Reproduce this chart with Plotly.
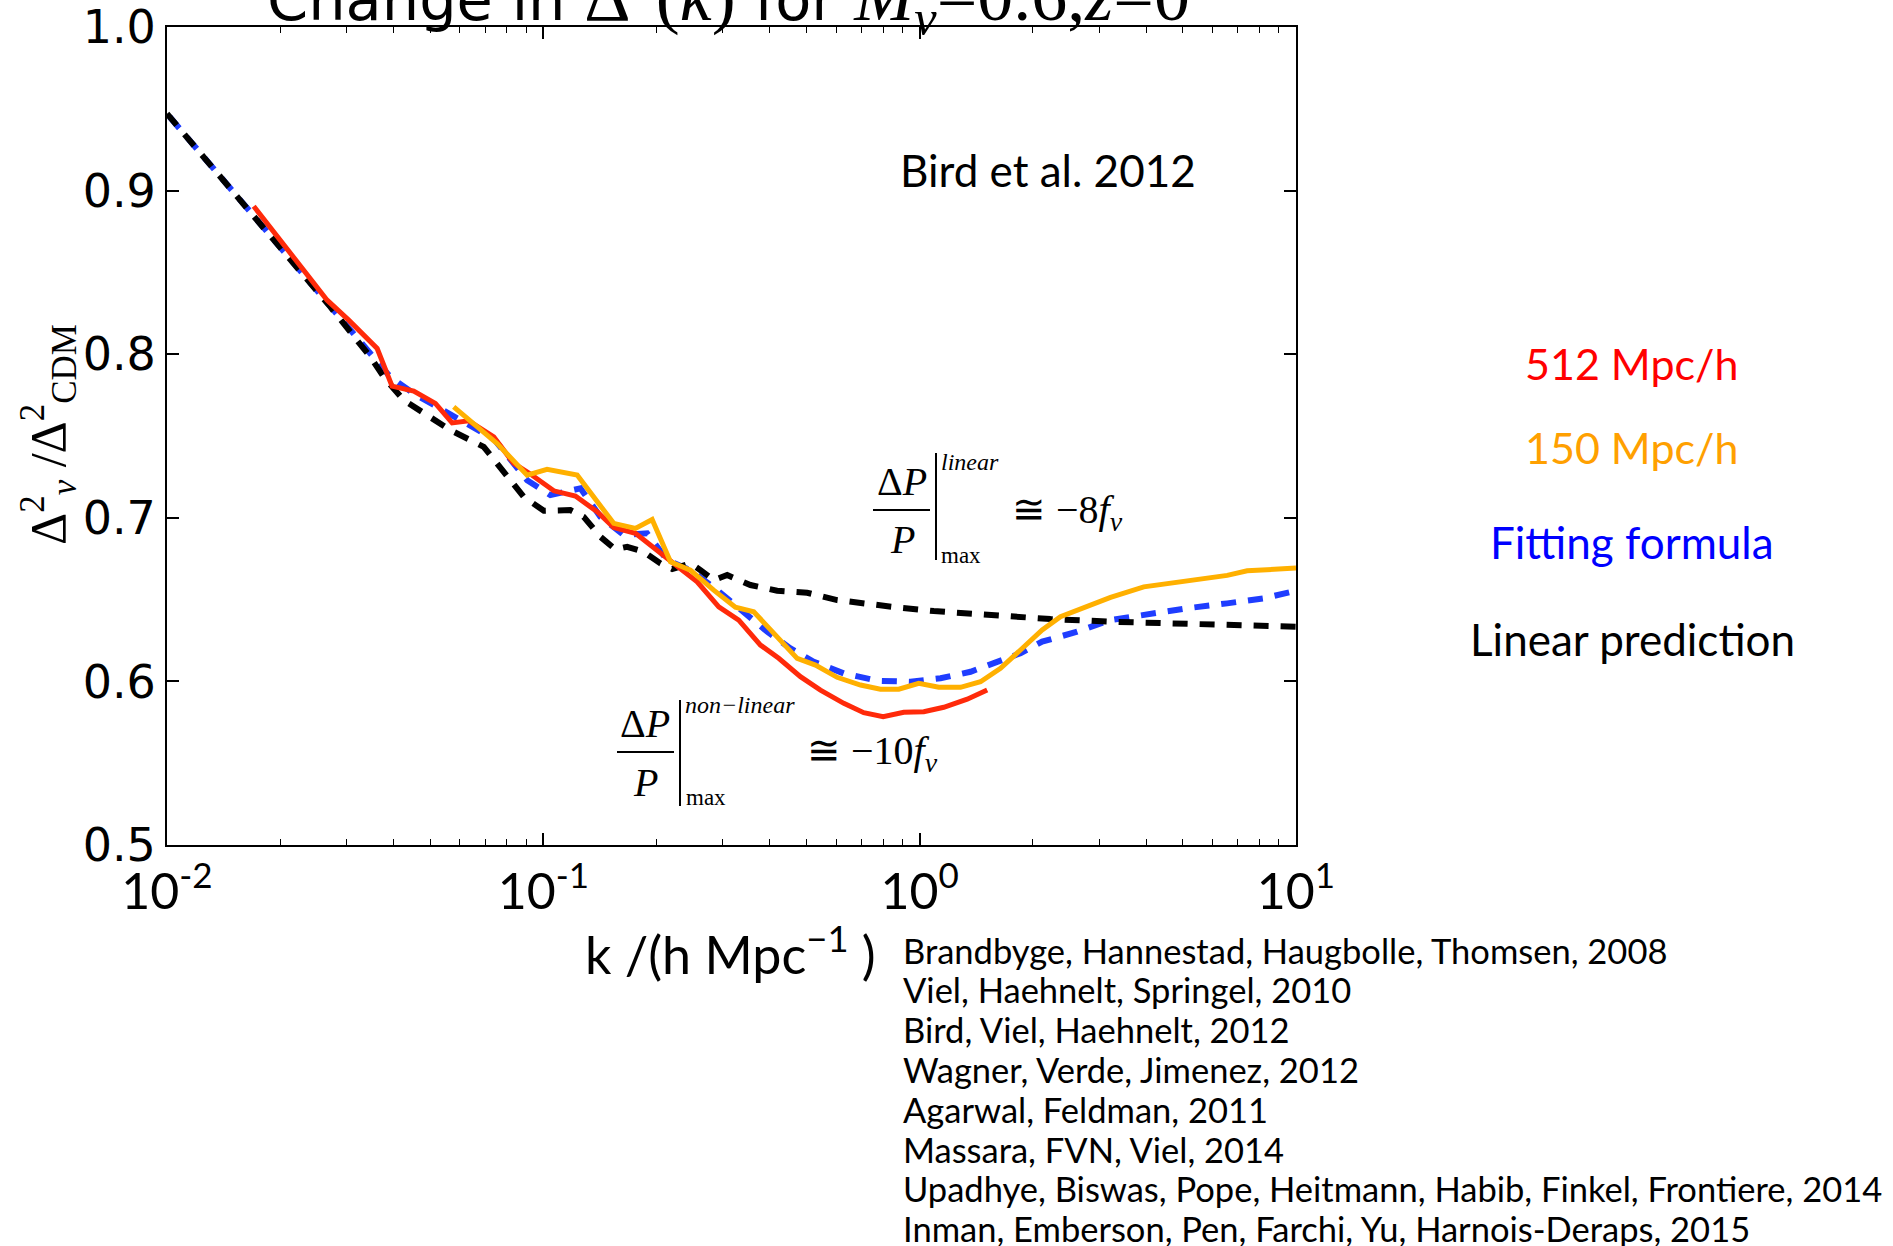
import plotly.graph_objects as go

# ---------------- data ----------------
k_red = [0.01700, 0.02664, 0.03040, 0.03618, 0.03963, 0.04525, 0.05166, 0.05724, 0.06333,
         0.07383, 0.08345, 0.0924, 0.1066, 0.1217, 0.1390, 0.1538, 0.1757, 0.1966, 0.2221,
         0.2563, 0.2925, 0.3306, 0.3775, 0.4222, 0.4822, 0.5450, 0.6287, 0.7102, 0.7998,
         0.9073, 1.0254, 1.1589, 1.3375, 1.5114]
y_red = [0.8904, 0.8330, 0.8208, 0.8035, 0.7805, 0.7774, 0.7699, 0.7580, 0.7593,
         0.7495, 0.7332, 0.7268, 0.7165, 0.7133, 0.7037, 0.6941, 0.6905, 0.6813, 0.6721,
         0.6609, 0.6456, 0.6375, 0.6222, 0.6141, 0.6029, 0.5947, 0.5866, 0.5809, 0.5784,
         0.5811, 0.5815, 0.5842, 0.5891, 0.5947]

k_orange = [0.05779, 0.07537, 0.09055, 0.1023, 0.1230, 0.1538, 0.1757, 0.1946, 0.2177,
            0.2460, 0.2836, 0.3238, 0.3623, 0.4096, 0.4726, 0.5286, 0.6035, 0.6963, 0.7866,
            0.8800, 0.9945, 1.124, 1.284, 1.451, 1.640, 1.853, 2.116, 2.367, 2.730, 3.215,
            3.940, 4.735, 5.809, 6.565, 7.418, 8.557, 10.0]
y_orange = [0.7678, 0.7454, 0.7261, 0.7296, 0.7261, 0.6966, 0.6935, 0.6990, 0.6731,
            0.6680, 0.6558, 0.6453, 0.6426, 0.6294, 0.6141, 0.6100, 0.6025, 0.5978, 0.5952,
            0.5952, 0.5988, 0.5964, 0.5964, 0.5998, 0.6080, 0.6192, 0.6314, 0.6395, 0.6453, 0.6514,
            0.6578, 0.6605, 0.6630, 0.6648, 0.6676, 0.6685, 0.6693]

k_fit = [0.0100, 0.0392, 0.0452, 0.0512, 0.0602, 0.0740, 0.09055, 0.1044, 0.1255, 0.1418,
         0.1636, 0.1887, 0.2133, 0.2460, 0.2896, 0.3341, 0.3934, 0.4536, 0.5232, 0.6287,
         0.7711, 0.9451, 1.136, 1.365, 1.640, 1.853, 2.116, 2.622, 3.215, 4.106, 5.137,
         6.565, 8.214, 10.0]
y_fit = [0.9470, 0.7861, 0.7760, 0.7689, 0.7607, 0.7480, 0.7230, 0.7139, 0.7180, 0.7006,
         0.6894, 0.6905, 0.6742, 0.6680, 0.6558, 0.6436, 0.6304, 0.6202, 0.6120, 0.6049,
         0.6004, 0.5998, 0.6019, 0.6059, 0.6131, 0.6172, 0.6243, 0.6304, 0.6375, 0.6416, 0.6447,
         0.6477, 0.6508, 0.6554]

k_lin = [0.0100, 0.02718, 0.03471, 0.03766, 0.04256, 0.05662, 0.06944, 0.0769, 0.0887,
         0.1003, 0.1180, 0.1280, 0.1418, 0.1554, 0.1670, 0.1849, 0.2048, 0.2200, 0.2460,
         0.2616, 0.2836, 0.3080, 0.3550, 0.4182, 0.5023, 0.6035, 0.7252, 0.8891, 1.090,
         1.3375, 1.708, 2.227, 3.215, 4.546, 6.834, 10.0]
y_lin = [0.9470, 0.8289, 0.7983, 0.7861, 0.7719, 0.7536, 0.7434, 0.7312, 0.7128,
         0.7043, 0.7047, 0.7006, 0.6884, 0.6807, 0.6823, 0.6792, 0.6721, 0.6687, 0.6721,
         0.6680, 0.6619, 0.6650, 0.6589, 0.6554, 0.6542, 0.6497, 0.6471, 0.6450, 0.6430,
         0.6416, 0.6395, 0.6381, 0.6365, 0.6355, 0.6340, 0.6334]

x_tick_vals = [0.01, 0.1, 1, 10]
x_tick_text = ["10<sup>-2</sup>", "10<sup>-1</sup>", "10<sup>0</sup>", "10<sup>1</sup>"]
x_minor_vals = [m * d for d in (0.01, 0.1, 1) for m in range(2, 10)]
y_tick_vals = [0.5, 0.6, 0.7, 0.8, 0.9, 1.0]

legend_labels = ["512 Mpc/h", "150 Mpc/h", "Fitting formula", "Linear prediction"]
legend_colors = ["#ff0000", "#ffa000", "#0000ff", "#000000"]

references = [
    "Brandbyge, Hannestad, Haugbolle, Thomsen, 2008",
    "Viel, Haehnelt, Springel, 2010",
    "Bird, Viel, Haehnelt, 2012",
    "Wagner, Verde, Jimenez, 2012",
    "Agarwal, Feldman, 2011",
    "Massara, FVN, Viel, 2014",
    "Upadhye, Biswas, Pope, Heitmann, Habib, Finkel, Frontiere, 2014",
    "Inman, Emberson, Pen, Farchi, Yu, Harnois-Deraps, 2015",
]

# ---------------- figure ----------------
W_FIG, H_FIG = 1893, 1246
L, T, W, H = 167, 27, 1129, 818

def xp(x):
    return (x - L) / W

def yp(y):
    return (T + H - y) / H

SERIF = "Liberation Serif"
NARROW = "Liberation Sans Narrow, Lato"
CAL = "Lato"

fig = go.Figure()
fig.add_trace(go.Scatter(x=k_fit, y=y_fit, mode="lines",
                         line=dict(color="#1f3dff", width=6, dash="0px,4px,15px,8px")))
fig.add_trace(go.Scatter(x=k_lin, y=y_lin, mode="lines",
                         line=dict(color="black", width=6, dash="15px,12px")))
fig.add_trace(go.Scatter(x=k_red, y=y_red, mode="lines",
                         line=dict(color="#ff2a0a", width=5)))
fig.add_trace(go.Scatter(x=k_orange, y=y_orange, mode="lines",
                         line=dict(color="#ffb000", width=5)))

anns = []

def ann(text, x, y, size, color="black", family=SERIF, xanchor="center", yanchor="middle", **kw):
    anns.append(dict(text=text, x=xp(x), y=yp(y), xref="paper", yref="paper",
                     showarrow=False, xanchor=xanchor, yanchor=yanchor,
                     font=dict(size=size, color=color, family=family), **kw))

# title (top is cut off in the reference)
title_html = ("Change in <span style='font-family:Liberation Serif;font-size:72px'>Δ<sup>2</sup>(<i>k</i>)</span>"
              " for <span style='font-family:Liberation Serif;font-size:72px'><i>M</i><sub><i>ν</i></sub>=0.6,<i>z</i>=0</span>")
ann(title_html, 728, -4, 59, family="DejaVu Sans")

# axis titles
ann("k /(h Mpc<sup>−1</sup> )", 730, 950, 52, family=NARROW)
ann("Δ<sup>2</sup><sub><i>ν</i></sub> /Δ<sup>2</sup><sub>CDM</sub>", 48, 435, 50, family=SERIF, textangle=-90)

# Bird et al.
ann("Bird et al. 2012", 1048, 170, 44, family=CAL)

# legend-like labels
for lab, col, yy, sz in zip(legend_labels, legend_colors, [363, 447, 542, 639], [43, 43, 44, 44]):
    ann(lab, 1632, yy, sz, color=col, family=CAL)

# references
for i, r in enumerate(references):
    ann(r, 901, 950 + 39.8 * i, 34.5, family=CAL, xanchor="left")

# formulas
shapes = []

def hline(x0, x1, y):
    shapes.append(dict(type="line", xref="paper", yref="paper", x0=xp(x0), x1=xp(x1),
                       y0=yp(y), y1=yp(y), line=dict(color="black", width=2)))

def vline(x, y0, y1):
    shapes.append(dict(type="line", xref="paper", yref="paper", x0=xp(x), x1=xp(x),
                       y0=yp(y0), y1=yp(y1), line=dict(color="black", width=2)))

# linear
ann("Δ<i>P</i>", 902, 481, 40)
hline(873, 930, 510)
ann("<i>P</i>", 902, 540, 40)
vline(936, 453, 560)
ann("<i>linear</i>", 939, 462, 24, xanchor="left")
ann("max", 939, 555, 23, xanchor="left")
ann("≅ −8<i>f</i><sub><i>ν</i></sub>", 1010, 512, 40, xanchor="left")

# non-linear
ann("Δ<i>P</i>", 645, 723, 40)
hline(617, 674, 752)
ann("<i>P</i>", 645, 782, 40)
vline(680, 700, 806)
ann("<i>non−linear</i>", 683, 705, 24, xanchor="left")
ann("max", 684, 797, 23, xanchor="left")
ann("≅ −10<i>f</i><sub><i>ν</i></sub>", 805, 753, 40, xanchor="left")

fig.update_layout(
    width=W_FIG, height=H_FIG,
    margin=dict(l=L, r=W_FIG - L - W, t=T, b=H_FIG - T - H, autoexpand=False),
    paper_bgcolor="white", plot_bgcolor="white",
    showlegend=False,
    annotations=anns, shapes=shapes,
    xaxis=dict(type="log", range=[-2, 1], tickmode="array", tickvals=x_tick_vals,
               ticktext=x_tick_text, ticks="inside", ticklen=12, tickwidth=1.5,
               tickcolor="black", showline=True, linewidth=2, linecolor="black",
               mirror="ticks", showgrid=False, zeroline=False, automargin=False,
               tickfont=dict(size=50, family=NARROW, color="black"),
               ticklabelstandoff=2,
               minor=dict(tickmode="array", tickvals=x_minor_vals, ticks="inside",
                          ticklen=6, tickwidth=1, tickcolor="black", showgrid=False)),
    yaxis=dict(range=[0.5, 1.0], tickmode="array", tickvals=y_tick_vals, tickformat=".1f",
               ticks="inside", ticklen=12, tickwidth=1.5, tickcolor="black",
               showline=True, linewidth=2, linecolor="black", mirror="ticks",
               showgrid=False, zeroline=False, automargin=False,
               tickfont=dict(size=46, family="DejaVu Sans", color="black")),
)

fig.write_html("out.html")
